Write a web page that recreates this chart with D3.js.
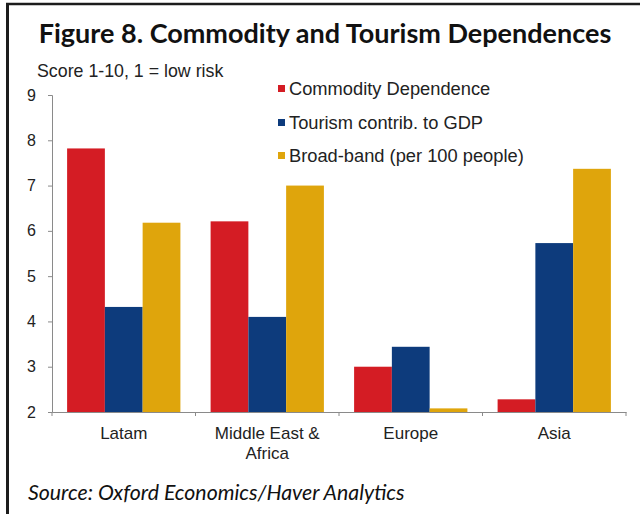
<!DOCTYPE html>
<html>
<head>
<meta charset="utf-8">
<script src="https://cdn.jsdelivr.net/npm/d3@7"></script>
<style>
  html, body { margin: 0; padding: 0; background: #fff; }
  svg { display: block; }
</style>
</head>
<body>
<svg id="chart" width="640" height="514"></svg>
<script>
// Regions on the x axis and the wrapped lines used for their labels
const categories = ["Latam", "Middle East & Africa", "Europe", "Asia"];
const categoryLines = [["Latam"], ["Middle East &", "Africa"], ["Europe"], ["Asia"]];

// Series (risk scores, 1-10)
const seriesNames = ["Commodity Dependence", "Tourism contrib. to GDP", "Broad-band (per 100 people)"];
const commodity = [7.82, 6.21, 3.0, 2.28];
const tourism   = [4.32, 4.1, 3.44, 5.73];
const broadband = [6.18, 7.0, 2.08, 7.37];

const yTicks = [2, 3, 4, 5, 6, 7, 8, 9];

const colors = ["#d41c24", "#0d3b7c", "#dfa50c"];
const seriesValues = [commodity, tourism, broadband];

const rows = categories.map((c, i) => ({
  category: c,
  values: seriesNames.map((s, k) => ({ series: s, value: seriesValues[k][i] }))
}));

const svg = d3.select("#chart");
const W = 640, H = 514;

svg.append("rect").attr("width", W).attr("height", H).attr("fill", "#fff");

// Frame edges (left and top)
svg.append("line").attr("x1", 7.5).attr("x2", 7.5).attr("y1", 3).attr("y2", H)
  .attr("stroke", "#1c1c1c").attr("stroke-width", 3);
svg.append("line").attr("x1", 6).attr("x2", W).attr("y1", 4).attr("y2", 4)
  .attr("stroke", "#1c1c1c").attr("stroke-width", 2.5);

// Title
svg.append("text")
  .attr("x", 325).attr("y", 43)
  .attr("text-anchor", "middle")
  .attr("font-family", "Lato, 'Open Sans', sans-serif")
  .attr("font-weight", 700)
  .attr("font-size", 27)
  .attr("fill", "#111")
  .text("Figure 8. Commodity and Tourism Dependences");

// Unit note
svg.append("text")
  .attr("x", 37).attr("y", 77)
  .attr("font-family", "Liberation Sans, Arial, sans-serif")
  .attr("font-size", 17.8)
  .attr("fill", "#222")
  .text("Score 1-10, 1 = low risk");

const plot = { left: 52, right: 626, top: 95, bottom: 412 };

const x0 = d3.scaleBand().domain(categories).range([plot.left, plot.right]).padding(0);
const x1 = d3.scaleBand().domain(seriesNames).range([0, x0.bandwidth()])
  .paddingInner(0).paddingOuter(0.4);
const y = d3.scaleLinear().domain([2, 9]).range([plot.bottom, plot.top]);
const color = d3.scaleOrdinal().domain(seriesNames).range(colors);

// Bars
const groups = svg.append("g").selectAll("g")
  .data(rows).join("g")
  .attr("transform", d => `translate(${x0(d.category)},0)`);

groups.selectAll("rect")
  .data(d => d.values).join("rect")
  .attr("x", d => x1(d.series))
  .attr("width", x1.bandwidth())
  .attr("y", d => y(d.value))
  .attr("height", d => y(2) - y(d.value))
  .attr("fill", d => color(d.series));

// Y axis
const yAxis = svg.append("g")
  .attr("transform", `translate(${plot.left},0)`)
  .call(d3.axisLeft(y).tickValues(yTicks).tickFormat(d3.format("d")).tickSize(4).tickPadding(12));
yAxis.select(".domain").attr("stroke", "#8a8a8a");
yAxis.selectAll(".tick line").attr("stroke", "#8a8a8a");
yAxis.selectAll("text")
  .attr("font-family", "Liberation Sans, Arial, sans-serif")
  .attr("font-size", 16)
  .attr("fill", "#222");

// X axis: baseline with ticks at the band boundaries
const xAxis = svg.append("g")
  .attr("transform", `translate(0,${plot.bottom})`)
  .call(d3.axisBottom(x0).tickSize(0).tickPadding(15).tickSizeOuter(0));
xAxis.select(".domain").attr("stroke", "#8a8a8a");
const edges = categories.map(c => x0(c)).concat([plot.right]);
xAxis.selectAll(".edge").data(edges).join("line")
  .attr("class", "edge")
  .attr("x1", d => d).attr("x2", d => d)
  .attr("y1", 0).attr("y2", 4)
  .attr("stroke", "#8a8a8a");

xAxis.selectAll(".tick text")
  .attr("font-family", "Liberation Sans, Arial, sans-serif")
  .attr("font-size", 17)
  .attr("fill", "#222")
  .each(function(d, i) {
    const t = d3.select(this);
    const lines = categoryLines[i];
    t.text(null);
    lines.forEach((ln, j) => {
      t.append("tspan").attr("x", 0).attr("dy", j === 0 ? "0.71em" : "1.15em").text(ln);
    });
  })
  .attr("dy", null);

// Legend
const legend = svg.append("g").attr("transform", "translate(278,0)");
const legendY = [88.5, 122.5, 155.5];
seriesNames.forEach((s, i) => {
  legend.append("rect")
    .attr("x", 0).attr("y", legendY[i] - 3.5)
    .attr("width", 7).attr("height", 7)
    .attr("fill", color(s));
  legend.append("text")
    .attr("x", 11).attr("y", legendY[i] + 6.5)
    .attr("font-family", "Liberation Sans, Arial, sans-serif")
    .attr("font-size", 18.3)
    .attr("fill", "#222")
    .text(s);
});

// Source line
svg.append("text")
  .attr("x", 28).attr("y", 500)
  .attr("font-family", "Lato, 'Open Sans', sans-serif")
  .attr("font-style", "italic")
  .attr("font-size", 21.3)
  .attr("fill", "#111")
  .text("Source: Oxford Economics/Haver Analytics");
</script>
</body>
</html>
